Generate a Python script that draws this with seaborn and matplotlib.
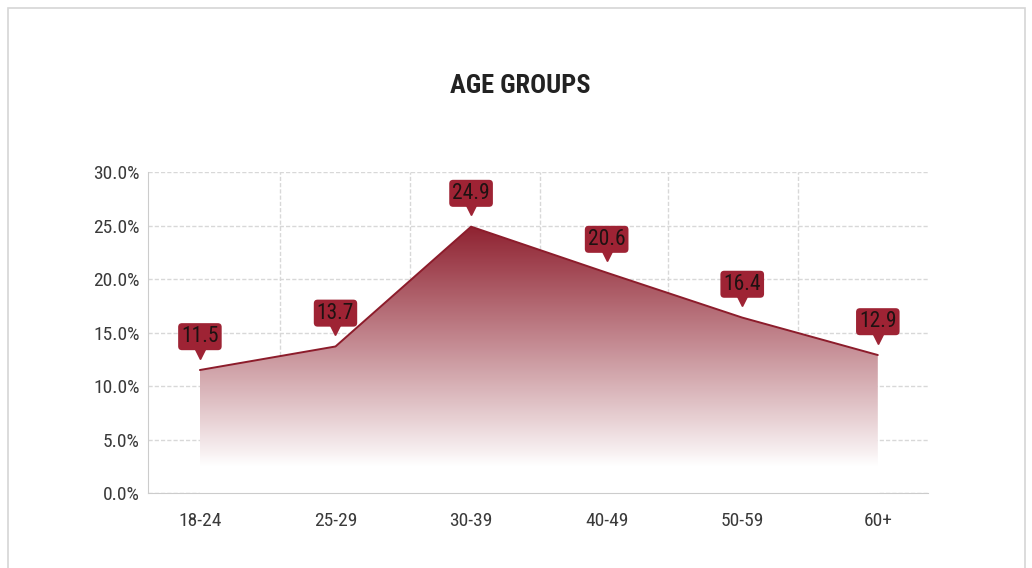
import numpy as np
import matplotlib.pyplot as plt
import matplotlib.transforms as mtransforms
import pandas as pd
import seaborn as sns
from matplotlib import font_manager
from matplotlib.colors import LinearSegmentedColormap
from matplotlib.patches import Rectangle

# data
age_groups = ['18-24', '25-29', '30-39', '40-49', '50-59', '60+']
shares = [11.5, 13.7, 24.9, 20.6, 16.4, 12.9]
y_ticks = [0, 5, 10, 15, 20, 25, 30]

df = pd.DataFrame({'pos': np.arange(len(age_groups)), 'share': shares})

sns.set_style('white')
installed = {f.name for f in font_manager.fontManager.ttflist}
narrow = [n for n in ['Roboto Condensed', 'Liberation Sans Narrow', 'Roboto'] if n in installed]
plt.rcParams['font.family'] = narrow[:1] + ['DejaVu Sans']
is_condensed = bool(narrow) and narrow[0] != 'Roboto'

dark_red = '#8c1c2b'
box_red = '#9e2334'

fig = plt.figure(figsize=(10.32, 5.68), dpi=100)
ax = fig.add_axes([0.1434, 0.132, 0.7558, 0.565])

# outer frame
fig.patches.append(Rectangle((0.008, -0.01), 0.985, 0.996, transform=fig.transFigure,
                             fill=False, edgecolor='#d6d6d6', linewidth=1.2))

# gradient fill under the line
x = df['pos'].values
y = df['share'].values
ymax = y.max()
cmap = LinearSegmentedColormap.from_list('fade', ['#ffffff', dark_red])
t = np.linspace(0, 1, 300)[:, None]
f = np.clip((t - 0.1) / 0.9, 0, 1) ** 0.95 * 0.97
grad = np.repeat(f, 2, axis=1)
im = ax.imshow(grad, extent=[x[0], x[-1], 0, ymax], origin='lower', aspect='auto',
               cmap=cmap, vmin=0, vmax=1, zorder=2)
poly = ax.fill_between(x, y, 0, facecolor='none', edgecolor='none')
im.set_clip_path(poly.get_paths()[0], transform=ax.transData)

sns.lineplot(data=df, x='pos', y='share', color=dark_red, linewidth=1.4, ax=ax, zorder=3)

# callout labels
lab_size = 15.5 if is_condensed else 13.5
up = mtransforms.ScaledTranslation(0, 12.5 / 72, fig.dpi_scale_trans)
for xi, yi in zip(x, y):
    ax.annotate(f'{yi:.1f}', (xi, yi), xytext=(0, 24), textcoords='offset points',
                ha='center', va='center', fontsize=lab_size, color='#1e1212',
                bbox=dict(boxstyle='round,pad=0.14,rounding_size=0.18', fc=box_red, ec='none'),
                zorder=5)
    ax.plot([xi], [yi], marker='v', markersize=8, color=box_red, linestyle='none',
            transform=ax.transData + up, zorder=5)

ax.set_xlim(-0.383, 5.37)
ax.set_ylim(0, 30)
ax.set_xticks(x)
ax.set_xticklabels(age_groups)
ax.set_yticks(y_ticks)
ax.set_yticklabels([f'{v:.1f}%' for v in y_ticks])
tick_size = 14 if is_condensed else 13
ax.tick_params(axis='both', labelsize=tick_size, labelcolor='#3a3a3a', length=0)
ax.tick_params(axis='x', pad=14)
ax.tick_params(axis='y', pad=6)

# grid
ax.set_xticks([0.59, 1.55, 2.51, 3.455, 4.41], minor=True)
ax.grid(True, which='major', axis='y', color='#d8d8d8', linestyle=(0, (3, 1.5)), linewidth=1)
ax.grid(True, which='minor', axis='x', color='#d8d8d8', linestyle=(0, (3, 1.5)), linewidth=1)
ax.tick_params(axis='x', which='minor', length=10, color='#dddddd', direction='out')
ax.set_axisbelow(True)

for side in ['top', 'right']:
    ax.spines[side].set_visible(False)
ax.spines['left'].set_color('#cccccc')
ax.spines['bottom'].set_color('#cccccc')

ax.set_xlabel('')
ax.set_ylabel('')
fig.text(0.504, 0.848, 'AGE GROUPS', ha='center', va='center',
         fontsize=19 if is_condensed else 16.5, fontweight='bold', color='#222222')

plt.savefig('out.png', dpi=100)
